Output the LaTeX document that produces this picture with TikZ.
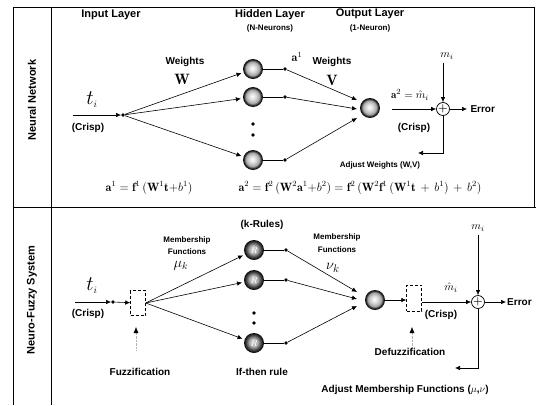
\documentclass[tikz,border=0pt]{standalone}
\usepackage{amsmath}
\usepackage{fontspec}
\setsansfont{Liberation Sans}
\usetikzlibrary{arrows.meta,positioning}
\newcommand{\fsz}[1]{\fontsize{#1}{#1}\selectfont}
\pgfdeclareradialshading{ringshade}{\pgfpoint{-2bp}{2bp}}{color(0bp)=(white); color(9bp)=(gray!30); color(17bp)=(gray!70); color(22bp)=(black!85); color(25bp)=(black); color(50bp)=(black)}
\pgfdeclareradialshading{ruleshade}{\pgfpoint{-2bp}{2bp}}{color(0bp)=(gray!30); color(10bp)=(gray!60); color(18bp)=(black!70); color(25bp)=(black); color(50bp)=(black)}
\tikzset{arr/.style={-{Latex[length=5pt,width=4.5pt]}, line width=.6pt}, ln/.style={line width=.6pt}, frame/.style={line width=.9pt}, neuron/.style={circle, minimum size=20pt, inner sep=0pt, shading=ringshade}, rulen/.style={circle, minimum size=20pt, inner sep=0pt, shading=ruleshade, text=white, font=\bfseries\itshape\fsz{9}}, junc/.style={circle, fill=black, inner sep=0pt, minimum size=3.6pt}, vdot/.style={circle, fill=black, inner sep=0pt, minimum size=3.6pt}, sumnode/.style={circle, draw, line width=.7pt, minimum size=13pt, inner sep=0pt, font=\bfseries\fsz{11}}, fuzz/.style={draw, densely dashed, line width=.5pt, minimum width=15pt, minimum height=25pt, inner sep=0pt}, upmark/.style={-{Latex[length=6pt,width=5pt,color=black]}, gray!60, densely dotted, line width=.4pt}, ttl/.style={font=\sffamily\bfseries\fsz{11}}, lab/.style={font=\sffamily\bfseries\fsz{10}}, sml/.style={font=\sffamily\bfseries\fsz{8}}, side/.style={font=\sffamily\bfseries\fsz{11}, rotate=90}, eqn/.style={font=\fsz{12}}}

\begin{document}
\begin{tikzpicture}[x=1pt,y=-1pt]
\useasboundingbox (0,0) rectangle (536,405);
\draw[frame] (13,405)--(13,7)--(534,7)--(534,207); \draw[frame] (51,7)--(51,405); \draw[frame] (13,207)--(536,207);
\node[ttl] (tin) at (111,15) {Input Layer}; \node[ttl] (thid) at (270,15) {Hidden Layer}; \node[ttl] (tout) at (370,14) {Output Layer};
\node[sml] (nneu) at (270,28) {(N-Neurons)}; \node[sml] (oneu) at (370,28) {(1-Neuron)};
\node[side] (snn) at (32,100) {Neural Network}; \node[side] (snf) at (32,300) {Neuro-Fuzzy System};
% neural network
\coordinate (in1) at (73,115); \node[junc] (j1) at (123,115) {};
\draw[arr] (in1) -- (j1);
\node (t1) at (92,100) {\fsz{20}$t_{\scriptscriptstyle i}$}; \node[lab] (c1) at (88,128) {(Crisp)};
\foreach \n/\y/\e in {1/69/100,2/97/109,3/160/118}{
  \node[neuron] (h\n) at (253,\y) {}; \node[junc] (a\n) at (285,\y) {}; \coordinate (ow\n) at (357,\e);
  \draw[arr, shorten >=2pt] (j1) -- (h\n); \draw[ln] (h\n) -- (a\n); \draw[arr] (a\n) -- (ow\n);
}
\node[vdot] (hv1) at (253,124) {}; \node[vdot] (hv2) at (253,135) {};
\node[lab] (w1) at (185,62) {Weights}; \node (w1s) at (182,79) {\fsz{15}$\mathbf{W}$};
\node[lab] (w2) at (332,62) {Weights}; \node (w2s) at (332,80) {\fsz{15}$\mathbf{V}$};
\node (a1l) at (297,57) {\fsz{12}$\mathbf{a}^1$};
\node[neuron] (o1) at (370,108) {};
\coordinate (or1) at (392,109); \node[sumnode] (s1) at (443,109) {+};
\draw[arr] (or1) -- (s1);
\node[inner sep=1pt] (a2l) at (410,95) {\fsz{11}$\mathbf{a}^2=\hat{m}_i$}; \node[lab] (c2) at (414,128) {(Crisp)};
\node (m1) at (447,56) {\fsz{11}$m_i$}; \draw[arr] (s1 |- m1.south) -- (s1);
\node[lab, anchor=west] (err1) at (467,109) {Error}; \draw[arr] (s1) -- (err1);
\coordinate (fb1) at (418,153); \draw[arr] (s1) |- (fb1);
\node[sml] (adj1) at (380,165) {Adjust Weights (W,V)};
\node[eqn] (eq1) at (149,188) {$\mathbf{a}^1=\mathbf{f}^1\,(\mathbf{W}^1\mathbf{t}{+}b^1)$};
\node[eqn] (eq2) at (360,188) {$\mathbf{a}^2=\mathbf{f}^2\,(\mathbf{W}^2\mathbf{a}^1{+}b^2)=\mathbf{f}^2\,(\mathbf{W}^2\mathbf{f}^1\,(\mathbf{W}^1\mathbf{t}\,+\,b^1)\,+\,b^2)$};
% neuro-fuzzy system
\coordinate (in2) at (75,302); \node[junc] (j2) at (113,302) {}; \node[fuzz] (fz) at (138,303) {};
\draw[arr] (in2) -- (j2); \draw[arr] (j2) -- (fz);
\node (t2) at (92,286) {\fsz{20}$t_{\scriptscriptstyle i}$}; \node[lab] (c3) at (88,314) {(Crisp)};
\coordinate (fzt) at (136,350); \draw[upmark] (fzt) -- (136,327);
\node[lab] (fuz) at (140,372) {Fuzzification};
\node[sml] (mf1) at (187,240) {Membership}; \node[sml] (mf1b) at (187,252) {Functions}; \node (mu) at (181,266) {\fsz{14}$\mu_k$};
\node[lab] (krul) at (262,225) {(k-Rules)};
\foreach \n/\y/\e in {1/250/292,2/280/299,3/343/306}{
  \node[rulen] (r\n) at (254,\y) {$R$}; \node[junc] (b\n) at (286,\y) {}; \coordinate (rw\n) at (357,\e);
  \draw[arr, shorten >=2pt] (fz.east) -- (r\n); \draw[ln] (r\n) -- (b\n); \draw[arr] (b\n) -- (rw\n);
}
\node[vdot] (rv1) at (254,313) {}; \node[vdot] (rv2) at (254,323) {};
\node[lab] (ifr) at (262,372) {If-then rule};
\node[sml] (mf2) at (337,237) {Membership}; \node[sml] (mf2b) at (337,250) {Functions}; \node (nu) at (333,268) {\fsz{15}$\nu_k$};
\node[neuron] (o2) at (375,300) {}; \node[fuzz, minimum height=26pt] (dz) at (414,298) {};
\draw[arr] (o2) -- (o2 -| dz.west);
\coordinate (dzt) at (412,350); \draw[upmark] (dzt) -- (412,327);
\node[sumnode] (s2) at (478,302) {+}; \draw[arr] (dz.east |- s2) -- (s2);
\node[inner sep=1pt] (mh2) at (451,288) {\fsz{11}$\hat{m}_i$}; \node[lab] (c4) at (441,315) {(Crisp)};
\node (m2) at (478,228) {\fsz{11}$m_i$}; \draw[arr] (m2) -- (s2);
\node[lab, anchor=west, inner sep=1pt] (err2) at (506,302) {Error}; \draw[arr] (s2) -- (err2);
\coordinate (fb2) at (455,368); \draw[arr] (s2) |- (fb2);
\node[lab] (dfz) at (410,352) {Defuzzification};
\node[lab] (adj2) at (405,390) {Adjust Membership Functions ($\mu$,$\nu$)};
\end{tikzpicture}
\end{document}
